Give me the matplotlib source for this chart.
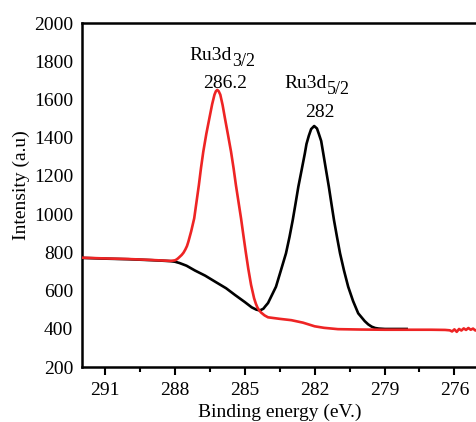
import matplotlib
matplotlib.use("Agg")
import matplotlib.pyplot as plt
from matplotlib.ticker import MultipleLocator

plt.rcParams['font.family'] = ['Liberation Serif', 'DejaVu Serif']

# values (binding energy in eV, intensity a.u.)
red_x = [292.0, 291.0, 290.0, 289.0, 288.5, 288.2, 288.0, 287.92, 287.85, 287.78,
         287.71, 287.63, 287.55, 287.48, 287.42, 287.3, 287.17, 287.07, 286.97, 286.88,
         286.78, 286.65, 286.52, 286.4, 286.3, 286.24, 286.18, 286.12, 286.05, 285.95,
         285.85, 285.72, 285.59, 285.48, 285.38, 285.27, 285.16, 285.06, 284.96, 284.85,
         284.73, 284.6, 284.52, 284.45, 284.37, 284.3, 284.15, 284.0, 283.5, 283.0,
         282.5, 282.0, 281.6, 281.0, 280.0, 279.0, 278.0, 277.0, 276.4, 276.2,
         276.1, 276.0, 275.9, 275.8, 275.7, 275.6, 275.5, 275.4, 275.3, 275.2,
         275.1, 275.0]
red_y = [772, 768, 765, 760, 757, 755, 758, 763, 770, 778,
         786, 798, 815, 833, 856, 910, 978, 1065, 1152, 1240,
         1327, 1420, 1501, 1575, 1625, 1643, 1650, 1643, 1625, 1570,
         1501, 1415, 1327, 1240, 1152, 1065, 978, 890, 804, 715,
         630, 560, 530, 510, 495, 485, 470, 460, 452, 445,
         432, 413, 405, 398, 396, 395, 395, 395, 394, 392,
         386, 397, 384, 399, 391, 402, 394, 404, 395, 401,
         391, 397]

black_x = [292.0, 291.0, 290.0, 289.0, 288.5, 288.2, 288.0, 287.8, 287.5, 287.14,
           286.7, 286.28, 285.8, 285.42, 285.0, 284.7, 284.5, 284.35, 284.2, 284.13,
           284.0, 283.9, 283.66, 283.45, 283.23, 283.08, 282.94, 282.82, 282.7, 282.56,
           282.42, 282.35, 282.25, 282.15, 282.02, 281.9, 281.82, 281.72, 281.63, 281.51,
           281.39, 281.28, 281.17, 281.04, 280.91, 280.74, 280.56, 280.35, 280.13, 280.0,
           279.85, 279.7, 279.55, 279.4, 279.25, 278.98, 278.5, 278.05]
black_y = [771, 767, 764, 759, 756, 754, 751, 744, 730, 705,
           678, 647, 612, 577, 540, 512, 500, 496, 505, 516,
           535, 560, 620, 705, 795, 880, 969, 1055, 1143, 1230,
           1318, 1367, 1410, 1445, 1461, 1448, 1420, 1383, 1318, 1230,
           1143, 1055, 969, 880, 795, 705, 620, 545, 481, 462,
           440, 423, 411, 404, 401, 399, 399, 399]

fig = plt.figure(figsize=(4.76, 4.22), dpi=100)
ax = fig.add_axes([81.7 / 476, 55 / 422, 396 / 476, 344 / 422])

ax.plot(black_x, black_y, color='black', lw=1.9, zorder=2)
ax.plot(red_x, red_y, color='#ee2424', lw=1.9, zorder=3)

ax.set_xlim(292, 275)
ax.set_ylim(200, 2000)
ax.xaxis.set_major_locator(MultipleLocator(3))
ax.xaxis.set_minor_locator(MultipleLocator(1.5))
ax.set_yticks(range(200, 2001, 200))
ax.tick_params(axis='x', which='major', length=6, width=1.5, direction='out',
               labelsize=14, pad=5)
ax.tick_params(axis='x', which='minor', length=3.5, width=1.5, direction='out')
ax.tick_params(axis='y', length=0, labelsize=14, pad=6)
for sp in ax.spines.values():
    sp.set_linewidth(1.8)

ax.set_xlabel("Binding energy (eV.)", fontsize=14, labelpad=3)
ax.set_ylabel("Intensity (a.u)", fontsize=14)
ax.yaxis.set_label_coords(-0.13, 0.53)

# peak labels: main text, subscript drawn a bit lower and smaller
ax.text(285.55, 1806, "Ru3d", fontsize=14, ha='right', va='baseline')
ax.annotate("3/2", (285.55, 1806), xytext=(0, -4.5), textcoords='offset points',
            fontsize=13, ha='left', va='baseline')
ax.text(285.83, 1660, "286.2", fontsize=14, ha='center', va='baseline')
ax.text(281.47, 1660, "Ru3d", fontsize=14, ha='right', va='baseline')
ax.annotate("5/2", (281.47, 1660), xytext=(0, -4.5), textcoords='offset points',
            fontsize=13, ha='left', va='baseline')
ax.text(281.77, 1508, "282", fontsize=14, ha='center', va='baseline')

fig.savefig("out.png", dpi=100)
